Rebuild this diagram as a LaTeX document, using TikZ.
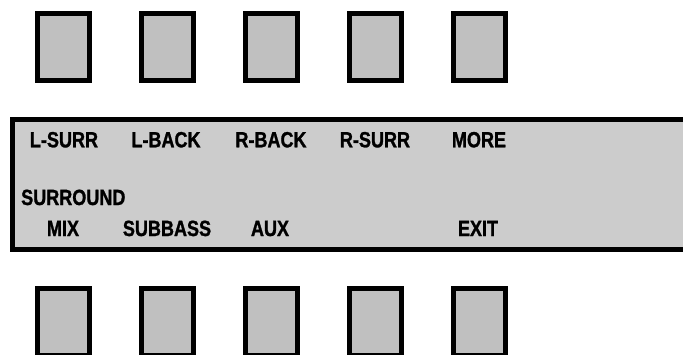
\documentclass[tikz,border=0pt]{standalone}
\usepackage{fontspec}
\usepackage{tikz}
\usetikzlibrary{positioning}
\newfontfamily\panelfont[FakeStretch=0.82,FakeBold=1.2]{Liberation Sans Bold}
\definecolor{keygray}{RGB}{192,192,192}
\definecolor{lcdgray}{RGB}{204,204,204}

\begin{document}
\begin{tikzpicture}[x=1pt,y=-1pt,node distance=104pt,on grid,
		softkey/.style={rectangle,draw=black,fill=keygray,line width=5pt,minimum width=52pt,minimum height=67pt,inner sep=0pt},
		lcd/.style={draw=black,fill=lcdgray,line width=5pt},
		keylabel/.style={font=\panelfont\fontsize{22}{26}\selectfont,inner sep=0pt,anchor=base}]
		\useasboundingbox (0,0) rectangle (683,354);

		% keys above the display
		\node[softkey] (top1) at (63.5,47)     {};
		\node[softkey] (top2) [right=of top1]  {};
		\node[softkey] (top3) [right=of top2]  {};
		\node[softkey] (top4) [right=of top3]  {};
		\node[softkey] (top5) [right=of top4]  {};

		% display
		\path[lcd] (12,119.5) rectangle (690,249.5);

		% keys below the display
		\node[softkey] (bot1) at (63.5,322)    {};
		\node[softkey] (bot2) [right=of bot1]  {};
		\node[softkey] (bot3) [right=of bot2]  {};
		\node[softkey] (bot4) [right=of bot3]  {};
		\node[softkey] (bot5) [right=of bot4]  {};

		% upper line of the display
		\node[keylabel] (lsurr) at (64,147.3)  {L-SURR};
		\node[keylabel] (lback) at (166,147.3) {L-BACK};
		\node[keylabel] (rback) at (271,147.3) {R-BACK};
		\node[keylabel] (rsurr) at (375,147.3) {R-SURR};
		\node[keylabel] (more)  at (479,147.3) {MORE};

		% lower lines of the display
		\node[keylabel,anchor=base west] (surround) at (21,205) {SURROUND};
		\node[keylabel] (mix)     at (63,236)  {MIX};
		\node[keylabel] (subbass) at (167,236) {SUBBASS};
		\node[keylabel] (aux)     at (270,236) {AUX};
		\node[keylabel] (exit)    at (478,236) {EXIT};
		\end{tikzpicture}
\end{document}
